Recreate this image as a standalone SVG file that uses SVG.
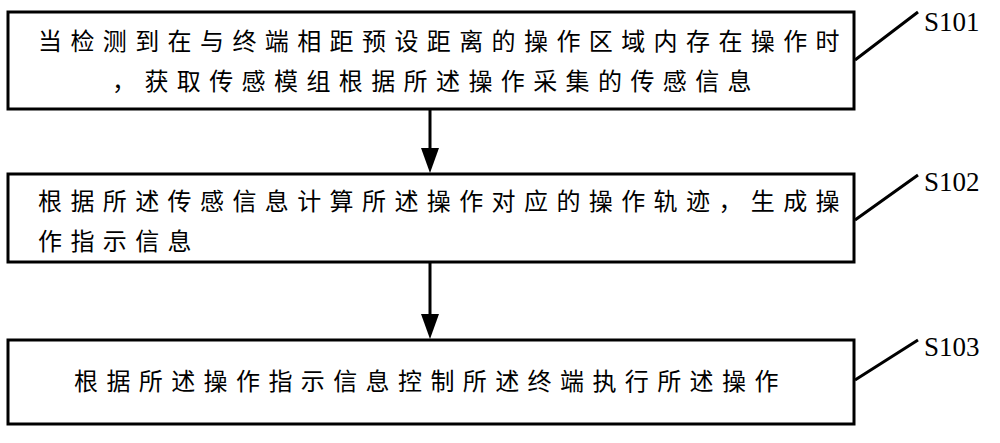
<svg xmlns="http://www.w3.org/2000/svg" width="1000" height="443" viewBox="0 0 1000 443">
<style>
.b{fill:#fff;stroke:#000;stroke-width:3}
.t{font-family:"Noto Sans CJK SC",sans-serif;font-size:24px;letter-spacing:8.4px;fill:#000}
.s{font-family:"Liberation Serif",serif;font-size:27px;fill:#000}
.l{stroke:#000;stroke-width:3;fill:none}
</style>
<rect width="1000" height="443" fill="#fff"/>
<g id="n1"><rect class="b" x="8" y="12" width="846" height="97"/>
<text class="t" x="38" y="50">当检测到在与终端相距预设距离的操作区域内存在操作时</text>
<text class="t" x="112" y="90">，获取传感模组根据所述操作采集的传感信息</text>
<text class="s" x="924" y="31">S101</text></g>
<g id="n2"><rect class="b" x="8" y="174" width="846" height="88"/>
<text class="t" x="38" y="210">根据所述传感信息计算所述操作对应的操作轨迹，生成操</text>
<text class="t" x="38" y="250">作指示信息</text>
<text class="s" x="924" y="191">S102</text></g>
<g id="n3"><rect class="b" x="8" y="340" width="846" height="84"/>
<text class="t" x="74" y="390">根据所述操作指示信息控制所述终端执行所述操作</text>
<text class="s" x="924" y="356">S103</text></g>
<g id="c">
<path class="l" d="M855,60L918,12M855,220L918,175M855,380L918,340"/>
<line class="l" x1="430" y1="109" x2="430" y2="150"/><path d="M421,148L439,148L430,173z"/>
<line class="l" x1="430" y1="262" x2="430" y2="316"/><path d="M421,314L439,314L430,339z"/>
</g>
</svg>
